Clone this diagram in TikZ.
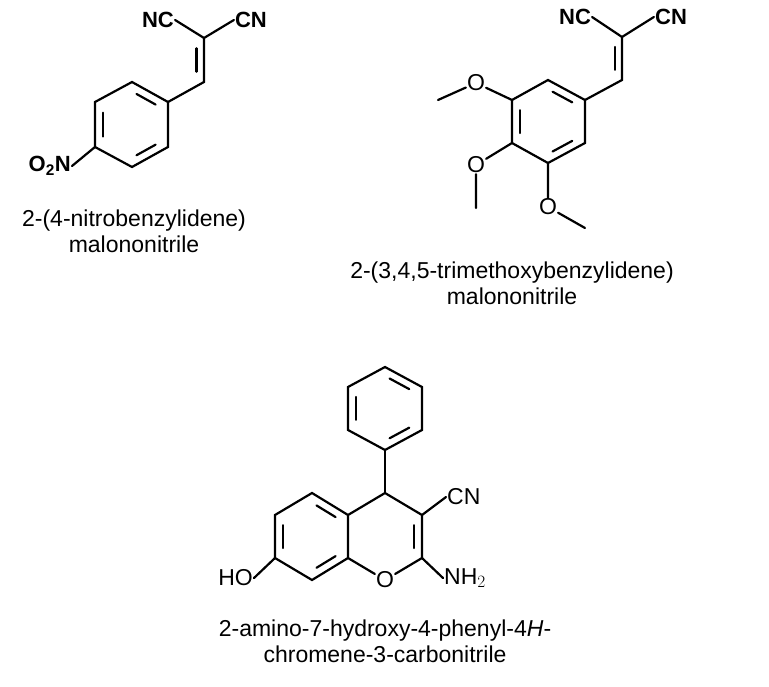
\documentclass[tikz,border=0pt]{standalone}
\usepackage{fontspec}
\setmainfont{Liberation Sans}
\usetikzlibrary{calc}

\tikzset{
  bond/.style={line width=2.2pt, line cap=round},
  atom/.style={inner sep=1pt, font=\fontsize{22}{22}\selectfont\bfseries},
  atomr/.style={inner sep=1pt, font=\fontsize{23}{23}\selectfont},
  caption/.style={align=center, font=\fontsize{23}{26}\selectfont}
}
% inner line of a double bond, pulled towards point #3
\newcommand{\innerbond}[3]{\draw[bond] ($(#1)!.16!(#2)!.22!(#3)$) -- ($(#2)!.16!(#1)!.22!(#3)$);}

\begin{document}
\begin{tikzpicture}[x=1pt,y=-1pt]
	\useasboundingbox (0,0) rectangle (769,687);

	% 2-(4-nitrobenzylidene)malononitrile
	\coordinate (A1) at (132,82);
	\coordinate (A2) at (95,102);
	\coordinate (A3) at (95,147);
	\coordinate (A4) at (132,167);
	\coordinate (A5) at (168,147);
	\coordinate (A6) at (168,102);
	\coordinate (Ac) at (132,125);
	\coordinate (Ach) at (204,82);
	\coordinate (Acc) at (204,38);
	\coordinate (Aside) at (170,60);
	\node[atom] (Anc) at (158,20) {NC};
	\node[atom] (Acn) at (251,20) {CN};
	\node[atom, anchor=east] (Ano) at (72,166) {O$_\mathbf{2}$N};

	\draw[bond] (A1) -- (A2) -- (A3) -- (A4) -- (A5) -- (A6) -- cycle;
	\innerbond{A2}{A3}{Ac}
	\innerbond{A1}{A6}{Ac}
	\innerbond{A4}{A5}{Ac}
	\draw[bond] (A6) -- (Ach) -- (Acc);
	\innerbond{Ach}{Acc}{Aside}
	\draw[bond] (Acc) -- (Anc.east);
	\draw[bond] (Acc) -- (Acn.west);
	\draw[bond] (A3) -- (Ano.east);

	\node[caption] (Aname) at (134,231) {2-(4-nitrobenzylidene)\\malononitrile};

	% 2-(3,4,5-trimethoxybenzylidene)malononitrile
	\coordinate (B1) at (548,80);
	\coordinate (B2) at (585,100);
	\coordinate (B3) at (585,143);
	\coordinate (B4) at (548,163);
	\coordinate (B5) at (512,143);
	\coordinate (B6) at (512,100);
	\coordinate (Bc) at (548,122);
	\coordinate (Bch) at (622,80);
	\coordinate (Bcc) at (622,37);
	\coordinate (Bside) at (590,58);
	\node[atom] (Bnc) at (575,17) {NC};
	\node[atom] (Bcn) at (671,17) {CN};
	\node[atomr] (Bo1) at (476,83) {O};
	\node[atomr] (Bo2) at (476,165) {O};
	\node[atomr] (Bo3) at (548,207) {O};
	\coordinate (Bm1) at (438,100);
	\coordinate (Bm2) at (476,208);
	\coordinate (Bm3) at (585,228);

	\draw[bond] (B1) -- (B2) -- (B3) -- (B4) -- (B5) -- (B6) -- cycle;
	\innerbond{B1}{B2}{Bc}
	\innerbond{B5}{B6}{Bc}
	\innerbond{B3}{B4}{Bc}
	\draw[bond] (B2) -- (Bch) -- (Bcc);
	\innerbond{Bch}{Bcc}{Bside}
	\draw[bond] (Bcc) -- (Bnc.east);
	\draw[bond] (Bcc) -- (Bcn.west);
	\draw[bond] (B6) -- (Bo1) -- (Bm1);
	\draw[bond] (B5) -- (Bo2) -- (Bm2);
	\draw[bond] (B4) -- (Bo3) -- (Bm3);

	\node[caption] (Bname) at (512,283) {2-(3,4,5-trimethoxybenzylidene)\\malononitrile};

	% 2-amino-7-hydroxy-4-phenyl-4H-chromene-3-carbonitrile
	\coordinate (P1) at (385,367);
	\coordinate (P2) at (422,387);
	\coordinate (P3) at (422,430);
	\coordinate (P4) at (385,450);
	\coordinate (P5) at (348,430);
	\coordinate (P6) at (348,387);
	\coordinate (Pc) at (385,408);
	\coordinate (C4) at (385,493);
	\coordinate (C3) at (422,515);
	\coordinate (C2) at (422,558);
	\coordinate (C8a) at (348,558);
	\coordinate (C4a) at (348,515);
	\coordinate (C5) at (312,493);
	\coordinate (C6) at (275,515);
	\coordinate (C7) at (275,558);
	\coordinate (C8) at (312,580);
	\coordinate (Pyc) at (385,537);
	\coordinate (Bzc) at (312,537);
	\node[atomr] (O1) at (385,580) {O};
	\node[atomr, anchor=west] (Ccn) at (446,497) {CN};
	\node[atomr, anchor=west] (Cnh) at (443,578) {NH$_2$};
	\node[atomr, anchor=east] (Coh) at (254,578) {HO};

	\draw[bond] (P1) -- (P2) -- (P3) -- (P4) -- (P5) -- (P6) -- cycle;
	\innerbond{P1}{P2}{Pc}
	\innerbond{P5}{P6}{Pc}
	\innerbond{P3}{P4}{Pc}
	\draw[bond] (P4) -- (C4);
	\draw[bond] (C4) -- (C3) -- (C2) -- (O1) -- (C8a) -- (C4a) -- (C4);
	\innerbond{C3}{C2}{Pyc}
	\draw[bond] (C4a) -- (C5) -- (C6) -- (C7) -- (C8) -- (C8a);
	\innerbond{C5}{C4a}{Bzc}
	\innerbond{C6}{C7}{Bzc}
	\innerbond{C8}{C8a}{Bzc}
	\draw[bond] (C3) -- (Ccn.west);
	\draw[bond] (C2) -- (Cnh.west);
	\draw[bond] (C7) -- (Coh.east);

	\node[caption] (Cname) at (385,641) {2-amino-7-hydroxy-4-phenyl-4\textit{H}-\\chromene-3-carbonitrile};
\end{tikzpicture}
\end{document}
